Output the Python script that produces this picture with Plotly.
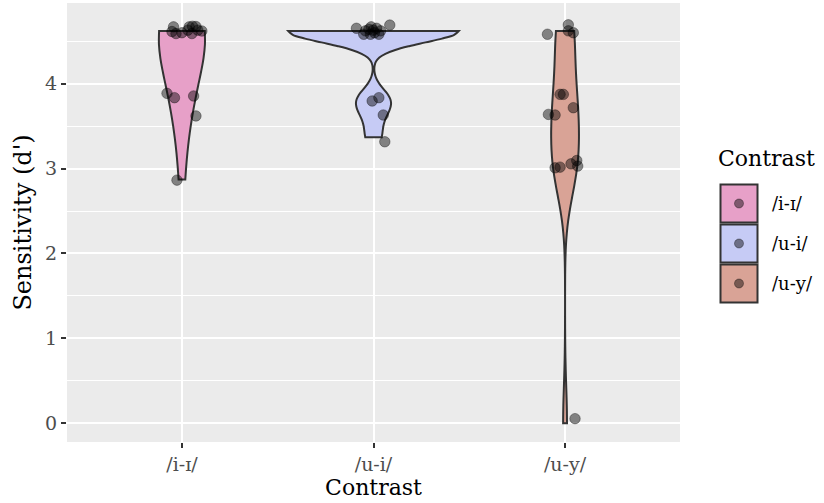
import plotly.graph_objects as go

# ---------------- data ----------------
contrasts = ["/i-ɪ/", "/u-i/", "/u-y/"]
fill_colors = ["#E7A0C8", "#C6CBF5", "#D9A396"]

# d' values per contrast (violin data)
dprime_ii = [4.62, 4.62, 4.62, 4.62, 4.62, 4.62, 4.62, 4.62, 4.62, 4.62, 4.62,
             3.886, 3.835, 3.855, 3.62, 2.87]
dprime_ui = [4.62, 4.62, 4.62, 4.62, 4.62, 4.62, 4.62, 4.62, 4.62, 4.62, 4.62, 4.62,
             3.796, 3.835, 3.631, 3.37]
dprime_uy = [4.62, 4.62, 4.62, 4.62,
             3.874, 3.874, 3.717, 3.638, 3.631,
             3.009, 3.017, 3.056, 3.095, 3.029,
             0.0]

# jitter of the plotted points (horizontal in category units, vertical in d')
jit_x_ii = [-0.044, -0.052, -0.031, 0.0, 0.031, 0.038, 0.055, 0.073, 0.052, 0.083, 0.104,
            -0.078, -0.039, 0.061, 0.073, -0.026]
jit_y_ii = [0.049, -0.006, -0.03, -0.02, 0.01, 0.049, 0.056, 0.053, -0.03, 0.01, 0.0,
            0.0, 0.0, 0.0, 0.0, -0.006]
jit_x_ui = [-0.089, -0.051, -0.042, -0.024, -0.012, -0.002, 0.005, 0.016, 0.028, 0.037, 0.085, -0.016,
            -0.007, 0.028, 0.051, 0.059]
jit_y_ui = [0.032, -0.038, 0.002, 0.021, 0.049, 0.01, -0.02, 0.032, -0.038, 0.002, 0.07, -0.038,
            0.0, 0.0, 0.0, -0.054]
jit_x_uy = [-0.092, 0.017, 0.017, 0.043,
            -0.026, -0.009, 0.043, -0.087, -0.052,
            -0.052, -0.026, 0.031, 0.061, 0.066,
            0.052]
jit_y_uy = [-0.038, 0.073, 0.002, -0.02,
            0.0, 0.0, 0.0, 0.0, 0.0,
            0.0, 0.0, 0.0, 0.0, 0.0,
            0.055]

y_ticks = [0, 1, 2, 3, 4]
x_title = "Contrast"
y_title = "Sensitivity (d')"
legend_title = "Contrast"

groups = [
    (dprime_ii, jit_x_ii, jit_y_ii),
    (dprime_ui, jit_x_ui, jit_y_ui),
    (dprime_uy, jit_x_uy, jit_y_uy),
]

# ---------------- style constants ----------------
W, H = 824, 503
L, R, T, B = 67, 144, 3, 61
pw, ph = W - L - R, H - T - B
FONT = "DejaVu Serif"
# full (maximum) width of each violin, in category units, and kernel bandwidths
VIOLIN_WIDTHS = [0.24, 0.89, 0.145]
VIOLIN_BW = [0.5, 0.135, 0.43]


def px_x(px):
    return (px - L) / pw


def px_y(py):
    return (H - B - py) / ph


fig = go.Figure()

for i, ((vals, jx, jy), col, name, wd, bw) in enumerate(
        zip(groups, fill_colors, contrasts, VIOLIN_WIDTHS, VIOLIN_BW)):
    fig.add_trace(go.Violin(
        x=[i] * len(vals), y=vals, name=name,
        fillcolor=col, line=dict(color="#333333", width=2),
        spanmode="hard", scalemode="width", scalegroup="g%d" % i, width=wd,
        bandwidth=bw, points=False,
        box_visible=False, meanline_visible=False,
        showlegend=False, hoverinfo="skip", opacity=1,
    ))

for i, ((vals, jx, jy), name) in enumerate(zip(groups, contrasts)):
    fig.add_trace(go.Scatter(
        x=[i + d for d in jx], y=[v + d for v, d in zip(vals, jy)],
        mode="markers", name=name, showlegend=False, hoverinfo="skip",
        marker=dict(size=10.5, color="rgba(0,0,0,0.45)",
                    line=dict(width=1, color="rgba(0,0,0,0.35)")),
    ))

# ---------------- manual ggplot-style legend ----------------
shapes = []
annotations = []
key_left, key_right = 720.5, 757.5
key_tops = [184.5, 224.5, 264.5]
key_h = 38
for top, col, name in zip(key_tops, fill_colors, contrasts):
    shapes.append(dict(type="rect", xref="paper", yref="paper",
                       x0=px_x(key_left), x1=px_x(key_right),
                       y0=px_y(top + key_h), y1=px_y(top),
                       fillcolor=col, line=dict(color="#333333", width=2)))
    cx, cy = (key_left + key_right) / 2, top + key_h / 2
    r = 4.5
    shapes.append(dict(type="circle", xref="paper", yref="paper",
                       x0=px_x(cx - r), x1=px_x(cx + r),
                       y0=px_y(cy + r), y1=px_y(cy - r),
                       fillcolor="rgba(0,0,0,0.45)",
                       line=dict(color="rgba(0,0,0,0.35)", width=1)))
    annotations.append(dict(xref="paper", yref="paper", x=px_x(770), y=px_y(cy),
                            xanchor="left", yanchor="middle", showarrow=False,
                            text=name, font=dict(family=FONT, size=18, color="black")))
annotations.append(dict(xref="paper", yref="paper", x=px_x(716), y=px_y(158),
                        xanchor="left", yanchor="middle", showarrow=False,
                        text=legend_title, font=dict(family=FONT, size=22, color="black")))

fig.update_layout(
    width=W, height=H,
    margin=dict(l=L, r=R, t=T, b=B, pad=0, autoexpand=False),
    paper_bgcolor="white", plot_bgcolor="#EBEBEB",
    violinmode="overlay", hovermode=False,
    font=dict(family=FONT, color="black"),
    shapes=shapes, annotations=annotations,
    xaxis=dict(
        type="linear", range=[-0.6, 2.6], tickvals=[0, 1, 2], ticktext=contrasts,
        showgrid=True, gridcolor="white", gridwidth=2, zeroline=False,
        ticks="outside", ticklen=5, tickwidth=1.5, tickcolor="#333333",
        tickfont=dict(family=FONT, size=19, color="#4D4D4D"),
        title=dict(text=x_title, font=dict(family=FONT, size=22, color="black"), standoff=2),
        showline=False, automargin=False,
    ),
    yaxis=dict(
        range=[-0.22, 4.95], tickvals=y_ticks,
        showgrid=True, gridcolor="white", gridwidth=2, zeroline=False,
        minor=dict(dtick=0.5, tick0=0.5, showgrid=True, gridcolor="white", gridwidth=1, ticks=""),
        ticks="outside", ticklen=5, tickwidth=1.5, tickcolor="#333333",
        tickfont=dict(family=FONT, size=19, color="#4D4D4D"),
        title=dict(text=y_title, font=dict(family=FONT, size=24, color="black"), standoff=6),
        showline=False, automargin=False,
    ),
)

fig.write_html("out.html", config={"displayModeBar": False},
               post_script="document.body.style.margin='0px';")
